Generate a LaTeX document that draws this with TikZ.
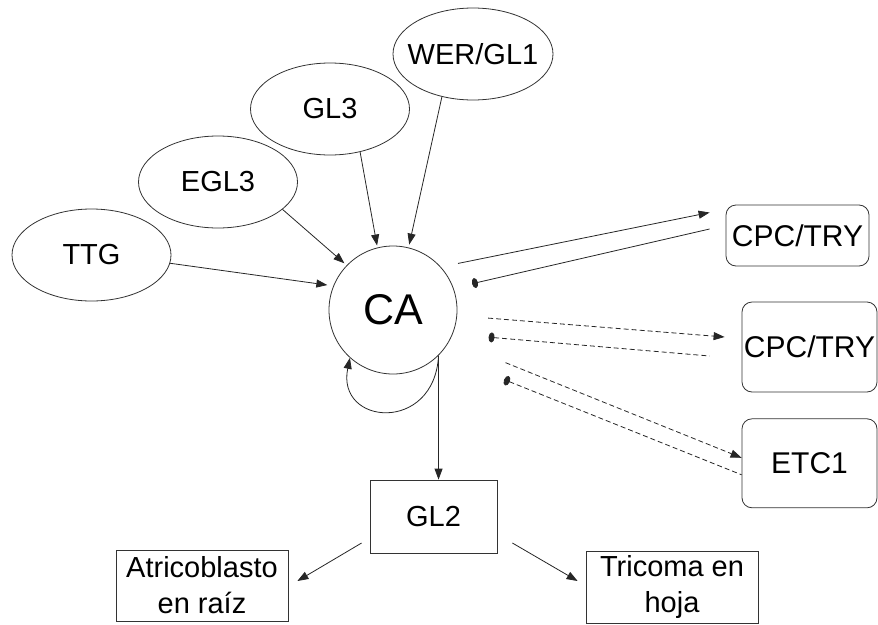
\documentclass[tikz,border=0pt]{standalone}
\usepackage{fontspec}
\setmainfont{Liberation Sans}
\usepackage{tikz}
\usetikzlibrary{shapes.geometric, arrows.meta, positioning}
\tikzset{
  % Node styles
  factor/.style={ellipse, draw=black!80, line width=0.8pt, minimum width=159pt, minimum height=92pt, inner sep=0pt, font=\fontsize{29}{34}\selectfont},
  hub/.style={circle, draw=black!80, line width=0.8pt, minimum size=128pt, inner sep=0pt, font=\fontsize{43}{48}\selectfont},
  partner/.style={rectangle, rounded corners=10pt, draw=black!80, line width=0.8pt, minimum width=135pt, inner sep=0pt, font=\fontsize{30}{34}\selectfont},
  genebox/.style={rectangle, draw=black!80, line width=0.8pt, inner sep=0pt, align=center, font=\fontsize{29}{36}\selectfont},
  % Connector styles
  arrow/.style={-{Triangle[length=11pt, width=8pt]}, line width=0.8pt, black!85},
  blunt/.style={{Ellipse[length=6pt, width=10pt]}-, line width=0.8pt, black!85},
  dashline/.style={dash pattern=on 5pt off 3pt},
}

\begin{document}
\begin{tikzpicture}[x=1pt, y=-1pt]
  \useasboundingbox (0,0) rectangle (878,624);

  % Upstream factors
  \node[factor] (ttg) at (91.5,255) {TTG};
  \node[factor] (egl3) at (218,182) {EGL3};
  \node[factor] (gl3) at (330,109) {GL3};
  \node[factor, minimum width=160pt] (wer) at (473,54) {\makebox[100pt]{WER/GL1}};

  % Central complex
  \node[hub] (ca) at (393,310) {CA};

  % Partner boxes on the right
  \node[partner, minimum width=143pt, minimum height=61pt] (cpc1) at (797.5,235.5) {CPC/TRY};
  \node[partner, minimum height=90pt] (cpc2) at (809.5,347) {CPC/TRY};
  \node[partner, minimum height=89pt, below=26pt of cpc2] (etc) {ETC1};

  % Downstream genes
  \node[genebox, minimum width=127pt, minimum height=73pt] (gl2) at (433.5,516.5) {GL2};
  \node[genebox, minimum width=172pt, minimum height=71pt] (atric) at (202,585.5) {Atricoblasto\\en raíz};
  \node[genebox, minimum width=172pt, minimum height=72pt] (tric) at (672,587) {Tricoma en\\hoja};

  % Inputs to CA
  \draw[arrow, shorten >=6pt] (ttg.-6) -- (ca.158);
  \draw[arrow, shorten >=3pt] (egl3.-23) -- (ca.136);
  \draw[arrow, shorten >=2pt] (gl3.-55) -- (ca.104);
  \draw[arrow, shorten >=3pt] (wer.-126) -- (ca.76);

  % Self loop and GL2
  \draw[arrow] (ca.-45) .. controls +(-4,78) and +(-14,68) .. (ca.-132);
  \draw[arrow] (ca.-45) -- (ca.-45 |- gl2.north);

  % CA and CPC/TRY (solid)
  \draw[arrow, shorten <=17.5pt] (ca.42) -- ([xshift=-16pt, yshift=23pt]cpc1.west);
  \draw[blunt, shorten <=19pt] (ca.20) -- ([xshift=-16pt, yshift=6.5pt]cpc1.west);

  % CA and CPC/TRY, ETC1 (dashed)
  \draw[arrow, dashline, shorten <=31pt] (ca.-5) -- ([xshift=-17pt, yshift=10pt]cpc2.west);
  \draw[blunt, dashline, shorten <=36pt] (ca.-22) -- ([xshift=-32pt, yshift=-9pt]cpc2.west);
  \draw[arrow, dashline, shorten <=60pt] (ca.-28) -- ([yshift=5.5pt]etc.west);
  \draw[blunt, dashline, shorten <=69pt] (ca.-43) -- ([yshift=-11.5pt]etc.west);

  % GL2 to cell fates
  \draw[arrow] ([xshift=-8pt, yshift=-26.5pt]gl2.west) -- ([xshift=9pt, yshift=4.5pt]atric.east);
  \draw[arrow] ([xshift=15pt, yshift=-26.5pt]gl2.east) -- ([xshift=-8pt, yshift=6pt]tric.west);
\end{tikzpicture}
\end{document}
